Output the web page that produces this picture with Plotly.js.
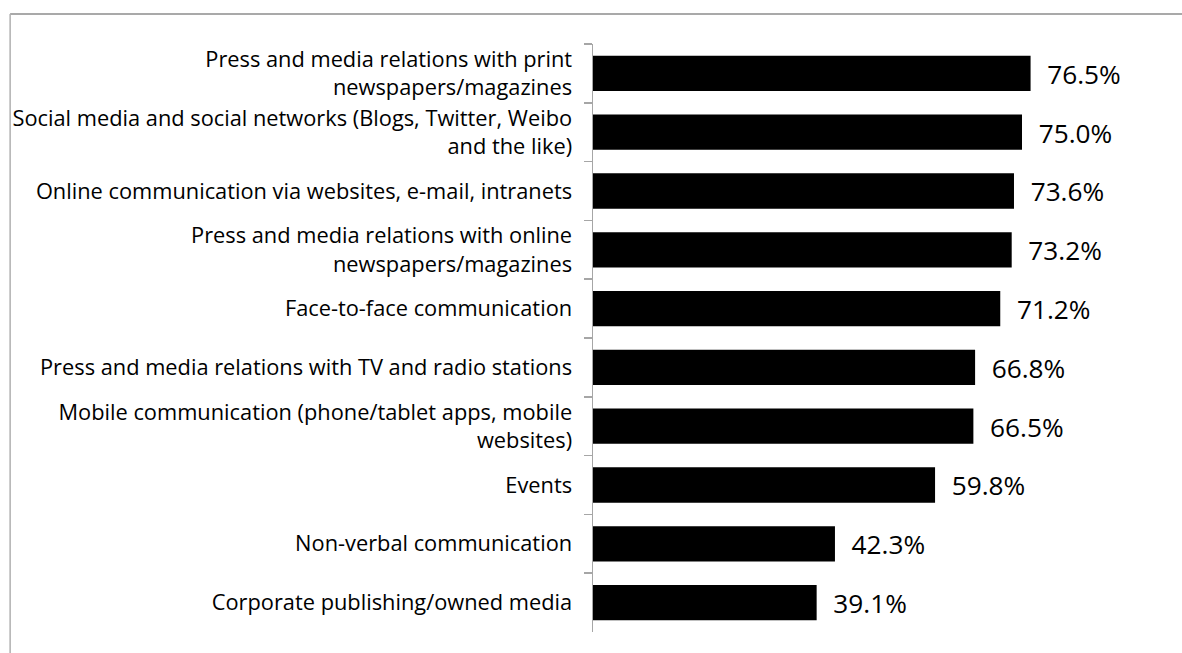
<!DOCTYPE html>
<html><head><meta charset="utf-8">
<script src="https://cdn.plot.ly/plotly-3.0.1.min.js"></script>
<style>html,body{margin:0;padding:0;background:#fff;}#chart{width:1182px;height:653px;}</style>
</head><body><div id="chart"></div>
<script>
const categories = [
  "Press and media relations with print<br>newspapers/magazines",
  "Social media and social networks (Blogs, Twitter, Weibo<br>and the like)",
  "Online communication via websites, e-mail, intranets",
  "Press and media relations with online<br>newspapers/magazines",
  "Face-to-face communication",
  "Press and media relations with TV and radio stations",
  "Mobile communication (phone/tablet apps, mobile<br>websites)",
  "Events",
  "Non-verbal communication",
  "Corporate publishing/owned media"
];
const values = [76.5, 75.0, 73.6, 73.2, 71.2, 66.8, 66.5, 59.8, 42.3, 39.1];

const FONT = "Open Sans, Lato, sans-serif";
const data = [{
  type: 'bar', orientation: 'h',
  y: categories, x: values,
  marker: {color: '#000000', line: {color: '#000000', width: 0}},
  text: values.map(v => '  ' + v.toFixed(1) + '%'),
  textposition: 'outside',
  textfont: {family: FONT, size: 29, color: '#000'},
  cliponaxis: false,
  hoverinfo: 'x+y'
}];
const layout = {
  width: 1182, height: 653,
  margin: {l: 593, r: 17, t: 44, b: 21},
  paper_bgcolor: '#fff', plot_bgcolor: '#fff',
  bargap: 0.4,
  showlegend: false,
  font: {family: FONT, color: '#000'},
  xaxis: {range: [0, 100], visible: false, showgrid: false, zeroline: false, fixedrange: true},
  yaxis: {
    autorange: 'reversed', type: 'category',
    showline: true, linecolor: '#a6a6a6', linewidth: 1.5,
    ticks: 'outside', ticklen: 8, tickcolor: '#a6a6a6', tickwidth: 1.5,
    tickson: 'boundaries', ticklabelstandoff: 15,
    tickfont: {family: FONT, size: 21.8, color: '#000'},
    showgrid: false, zeroline: false
  },
  shapes: [
    {type: 'line', xref: 'paper', yref: 'paper', x0: -1.019, x1: 2, y0: 1.051, y1: 1.051, line: {color: '#8c8c8c', width: 1.5}},
    {type: 'line', xref: 'paper', yref: 'paper', x0: -1.019, x1: -1.019, y0: 1.051, y1: -1, line: {color: '#b0b0b0', width: 1.5}}
  ]
};
Plotly.newPlot('chart', data, layout, {displayModeBar: false, staticPlot: true});
</script></body></html>
